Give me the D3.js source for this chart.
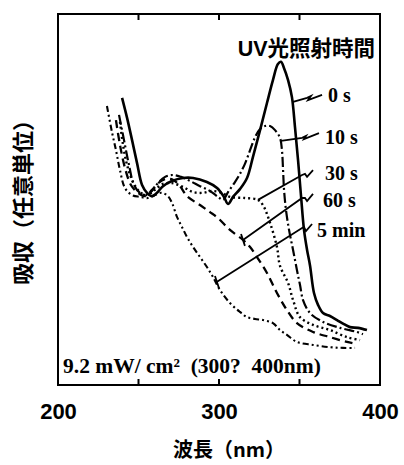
<!DOCTYPE html>
<html>
<head>
<meta charset="utf-8">
<script src="https://cdn.jsdelivr.net/npm/d3@7"></script>
<style>
  body { margin: 0; background: #fff; }
  svg { display: block; }
</style>
</head>
<body>
<svg id="spectra" width="404" height="465"></svg>
<script>
// wavelength (nm) / absorbance (arb. units, 0-100)
var s0 = [
  [239.8,77.4],[242.9,72.0],[246.0,66.0],[249.1,59.8],[252.2,53.9],[255.3,51.8],[258.4,50.9],
  [261.5,51.8],[265.2,53.6],[270.8,55.0],[277.6,55.8],[283.9,55.8],[292.5,54.7],[298.8,53.1],
  [303.1,50.7],[305.6,48.8],[308.7,50.7],[313.0,52.8],[317.4,55.8],[321.1,61.5],[325.5,68.7],
  [329.8,76.0],[333.5,82.2],[336.6,86.5],[338.5,87.1],[340.4,85.4],[342.9,82.2],[345.3,77.6],
  [347.2,69.5],[349.1,60.6],[350.9,51.2],[352.8,41.8],[354.7,36.4],[356.5,32.3],[359.0,24.8],
  [361.5,21.6],[364.6,19.4],[368.9,18.6],[373.3,17.5],[377.6,16.4],[381.4,15.6],[386.3,15.4],
  [391.9,14.8]
];
var s10 = [
  [237.9,72.8],[241.0,66.0],[244.1,59.3],[247.2,53.9],[250.9,51.8],[255.3,51.2],[259.0,52.6],
  [262.1,54.4],[266.5,56.1],[271.4,56.6],[276.4,56.1],[282.0,55.0],[288.2,53.6],[294.4,52.3],
  [299.4,50.7],[302.5,49.9],[305.6,52.0],[309.9,54.7],[313.0,56.9],[316.1,59.6],[319.3,63.3],
  [322.4,66.8],[325.5,69.0],[328.6,69.8],[331.7,69.8],[334.8,68.7],[337.9,66.6],[339.1,63.3],
  [339.8,57.9],[340.4,52.6],[341.6,47.2],[343.5,41.8],[346.0,36.4],[348.4,31.0],[350.3,27.0],
  [352.2,22.9],[356.5,19.4],[364.6,17.0],[375.2,15.4],[385.7,14.3],[389.4,13.7]
];
var s30 = [
  [238.5,70.9],[240.4,64.7],[242.9,59.3],[246.6,54.7],[250.9,52.0],[255.3,51.2],[260.2,52.6],
  [265.2,54.2],[270.8,54.4],[277.6,53.4],[283.9,52.0],[290.1,51.8],[295.7,52.3],[301.9,51.8],
  [306.8,50.7],[316.1,50.4],[324.2,49.9],[327.3,48.5],[331.7,43.7],[336.0,37.2],[337.9,32.1],
  [342.9,27.5],[346.0,22.9],[350.3,18.3],[358.4,16.2],[368.9,14.8],[379.5,12.9],[387.6,12.1]
];
var s60 = [
  [236.0,71.4],[238.5,64.7],[241.6,58.5],[245.3,53.9],[249.7,51.8],[254.0,50.9],[258.4,52.6],
  [262.1,54.4],[266.5,55.5],[271.4,55.3],[275.8,53.6],[280.1,50.9],[288.2,48.5],[294.4,46.6],
  [299.4,45.0],[306.8,41.8],[314.9,39.1],[319.3,37.2],[323.6,34.5],[329.8,30.2],[336.0,24.8],
  [342.2,20.2],[348.4,16.7],[358.4,14.3],[368.9,12.9],[379.5,11.6],[384.5,11.1]
];
var s5min = [
  [230.4,75.2],[233.5,68.2],[236.0,63.3],[238.5,57.9],[241.6,53.1],[246.0,51.2],[250.9,50.7],
  [255.9,50.4],[260.2,51.2],[264.6,51.8],[268.3,50.9],[270.8,49.1],[273.9,45.3],[277.0,42.6],
  [280.1,39.9],[283.9,37.2],[288.2,34.5],[292.5,31.8],[296.3,29.1],[300.6,25.6],[306.8,22.1],
  [313.0,19.7],[317.4,18.3],[322.4,17.8],[327.3,17.5],[333.5,16.7],[337.9,14.8],[342.2,13.5],
  [348.4,11.6],[358.4,10.8],[368.9,10.2],[377.0,10.0],[384.5,10.0]
];

var seriesNames = ["0 s", "10 s", "30 s", "60 s", "5 min"];
var seriesData = [s0, s10, s30, s60, s5min];
var dashes = [null, "10,3,2,3", "2,3", "8,5", "6,3,2,3,2,3"];
var widths = [2.6, 2.2, 2.4, 2.3, 2.1];

// leader lines from each curve to its label
var leaders = [
  [[346.0,76.3],[354.7,77.4],[357.1,77.9],[355.3,76.8],[364.0,78.2]],
  [[338.5,65.8],[351.6,66.6],[354.0,67.1],[352.8,66.3],[362.1,67.9]],
  [[324.2,49.9],[351.6,56.6],[353.4,56.9],[354.7,56.1],[358.4,57.9]],
  [[314.9,39.1],[351.6,50.4],[353.4,50.4],[354.7,49.6],[358.4,51.5]],
  [[298.8,27.8],[351.6,42.3],[352.8,42.6],[354.0,41.5],[357.8,43.4]]
];
var leaderTicks = [
  [[313.7,40.7],[316.1,37.5]],
  [[297.5,29.4],[300.0,26.1]]
];
var labelPos = [[367.7,78.2],[365.8,66.8],[365.8,57.1],[364.6,49.9],[360.9,41.8]];

var xTicks = [250, 300, 350];
var xTickLabels = [200, 300, 400];

var svg = d3.select("#spectra"),
    margin = {top: 14, right: 24, bottom: 80, left: 58},
    width = 404 - margin.left - margin.right,
    height = 465 - margin.top - margin.bottom,
    g = svg.append("g").attr("transform", "translate(" + margin.left + "," + margin.top + ")");

var x = d3.scaleLinear().domain([200, 400]).range([0, width]);
var y = d3.scaleLinear().domain([0, 100]).range([height, 0]);

var line = d3.line()
    .x(function(d) { return x(d[0]); })
    .y(function(d) { return y(d[1]); })
    .curve(d3.curveCatmullRom.alpha(0.5));

var straight = d3.line()
    .x(function(d) { return x(d[0]); })
    .y(function(d) { return y(d[1]); });

g.selectAll(".spectrum")
  .data(seriesData)
  .enter().append("path")
    .attr("class", "spectrum")
    .attr("d", line)
    .attr("fill", "none")
    .attr("stroke", "#000")
    .attr("stroke-width", function(d, i) { return widths[i]; })
    .attr("stroke-dasharray", function(d, i) { return dashes[i]; })
    .attr("stroke-linejoin", "round");

g.selectAll(".leader")
  .data(leaders.concat(leaderTicks))
  .enter().append("path")
    .attr("class", "leader")
    .attr("d", straight)
    .attr("fill", "none")
    .attr("stroke", "#000")
    .attr("stroke-width", 1.8);

g.selectAll(".label")
  .data(seriesNames)
  .enter().append("text")
    .attr("class", "label")
    .attr("x", function(d, i) { return x(labelPos[i][0]); })
    .attr("y", function(d, i) { return y(labelPos[i][1]); })
    .attr("dy", "0.35em")
    .style("font", "bold 20px 'Liberation Serif', serif")
    .text(function(d) { return d; });

g.append("text")
    .attr("x", x(396.9))
    .attr("y", y(90.8))
    .attr("dy", "0.35em")
    .attr("text-anchor", "end")
    .style("font", "bold 21.5px 'Liberation Sans', 'Noto Sans CJK JP', sans-serif")
    .text("UV光照射時間");

g.append("text")
    .attr("x", 5)
    .attr("y", height - 20)
    .attr("dy", "0.35em")
    .attr("xml:space", "preserve")
    .style("white-space", "pre")
    .style("font", "bold 21.5px 'Liberation Serif', serif")
    .text("9.2 mW/ cm\u00b2  (300?  400nm)");

// frame with inward ticks top and bottom
g.append("rect")
    .attr("width", width)
    .attr("height", height)
    .attr("fill", "none")
    .attr("stroke", "#000")
    .attr("stroke-width", 2);

g.selectAll(".tick-b")
  .data(xTicks)
  .enter().append("line")
    .attr("class", "tick-b")
    .attr("x1", x).attr("x2", x)
    .attr("y1", height).attr("y2", height - 6)
    .attr("stroke", "#000").attr("stroke-width", 2);

g.selectAll(".tick-t")
  .data(xTicks)
  .enter().append("line")
    .attr("class", "tick-t")
    .attr("x1", x).attr("x2", x)
    .attr("y1", 0).attr("y2", 6)
    .attr("stroke", "#000").attr("stroke-width", 2);

var xAxis = g.append("g")
    .attr("class", "axis axis--x")
    .attr("transform", "translate(0," + height + ")")
    .call(d3.axisBottom(x).tickValues(xTickLabels).tickSize(0).tickPadding(18).tickFormat(d3.format("d")));

xAxis.select(".domain").remove();
xAxis.selectAll("text")
    .attr("fill", "#000")
    .style("font", "bold 22px 'Liberation Sans', Arial, sans-serif");

g.append("text")
    .attr("x", width / 2 + 10)
    .attr("y", height + 65)
    .attr("text-anchor", "middle")
    .attr("dy", "0.35em")
    .style("font", "bold 20px 'Noto Sans CJK JP', sans-serif")
    .text("波長（nm）");

g.append("text")
    .attr("transform", "translate(" + (23 - margin.left) + "," + (197 - margin.top) + ") rotate(-90)")
    .attr("text-anchor", "middle")
    .attr("dy", "0.35em")
    .style("font", "bold 22px 'Noto Sans CJK JP', sans-serif")
    .text("吸収（任意単位）");
</script>
</body>
</html>
